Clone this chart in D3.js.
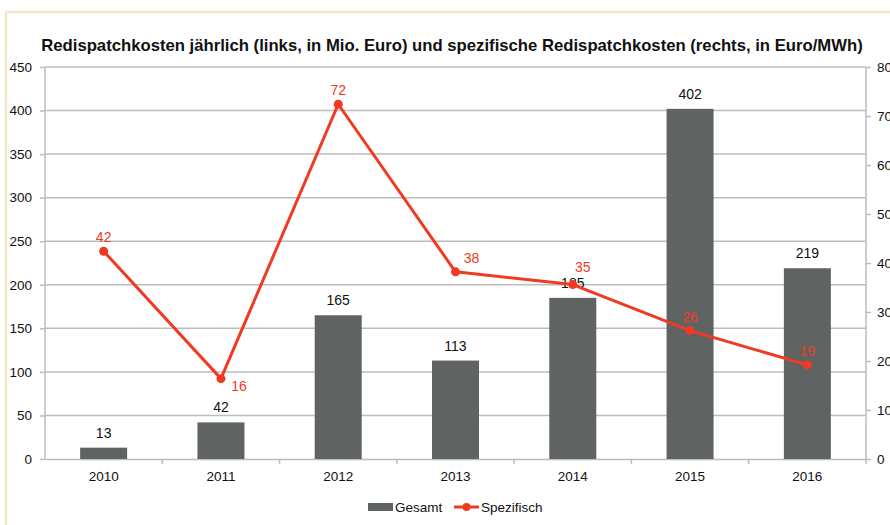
<!DOCTYPE html>
<html>
<head>
<meta charset="utf-8">
<script src="https://cdn.jsdelivr.net/npm/d3@7"></script>
<style>
	body { margin: 0; background: #fff; }
	svg { display: block; font-family: 'Liberation Sans', Arial, sans-serif; }
</style>
</head>
<body>
<div class="chart"></div>
<script>
var years = ['2010', '2011', '2012', '2013', '2014', '2015', '2016'];
var gesamt = [13, 42, 165, 113, 185, 402, 219];
var spezifisch = [42.4, 16.4, 72.4, 38.2, 35.6, 26.2, 19.2];
var leftTicks = [0, 50, 100, 150, 200, 250, 300, 350, 400, 450];
var rightTicks = [0, 10, 20, 30, 40, 50, 60, 70, 80];

var barColor = '#5f6463',
	lineColor = '#f03a22',
	gridColor = '#bcbcbc',
	frameColor = '#f1e7c4';

var width = 890, height = 525;
var margin = {top: 67, left: 45, bottom: 66, right: 24};
var innerW = width - margin.left - margin.right;
var innerH = height - margin.top - margin.bottom;

var svg = d3.select('.chart').append('svg')
	.attr('width', width)
	.attr('height', height);

// beige frame round the chart
svg.append('line').attr('x1', 6).attr('x2', width).attr('y1', 12).attr('y2', 12)
	.attr('stroke', frameColor).attr('stroke-width', 2.5);
svg.append('line').attr('x1', 6).attr('x2', 6).attr('y1', 12).attr('y2', height)
	.attr('stroke', frameColor).attr('stroke-width', 2.5);

svg.append('text')
	.attr('x', 452)
	.attr('y', 51)
	.attr('text-anchor', 'middle')
	.attr('font-size', '16.7px')
	.attr('font-weight', 'bold')
	.attr('fill', '#111')
	.text('Redispatchkosten jährlich (links, in Mio. Euro) und spezifische Redispatchkosten (rechts, in Euro/MWh)');

var g = svg.append('g')
	.attr('transform', 'translate(' + margin.left + ',' + margin.top + ')');

var x = d3.scaleBand().domain(years).range([0, innerW]);
var yL = d3.scaleLinear().domain([0, 450]).range([innerH, 0]);
var yR = d3.scaleLinear().domain([0, 80]).range([innerH, 0]);

// gridlines
g.selectAll('.grid').data(leftTicks.slice(1)).enter().append('line')
	.attr('x1', 0).attr('x2', innerW)
	.attr('y1', function(d) { return yL(d); })
	.attr('y2', function(d) { return yL(d); })
	.attr('stroke', gridColor)
	.attr('stroke-width', 1.5);

// axes
var leftAxis = g.append('g')
	.call(d3.axisLeft(yL).tickValues(leftTicks).tickSize(5).tickPadding(8));
var rightAxis = g.append('g')
	.attr('transform', 'translate(' + innerW + ',0)')
	.call(d3.axisRight(yR).tickValues(rightTicks).tickSize(5).tickPadding(6));
var bottomAxis = g.append('g')
	.attr('transform', 'translate(0,' + innerH + ')')
	.call(d3.axisBottom(x).tickSize(0).tickPadding(12));
[leftAxis, rightAxis, bottomAxis].forEach(function(a) {
	a.select('.domain').attr('stroke', gridColor).attr('stroke-width', 1.5);
	a.selectAll('.tick line').attr('stroke', gridColor).attr('stroke-width', 1.5);
	a.selectAll('text').attr('font-size', '13.5px').attr('fill', '#111')
		.attr('font-family', "'Liberation Sans', Arial, sans-serif");
});
leftAxis.select('.domain').attr('d', 'M0,0V' + innerH);
rightAxis.select('.domain').attr('d', 'M0,0V' + innerH);
// category boundary ticks on the x axis
g.selectAll('.xb').data(years).enter().append('line')
	.attr('x1', function(d) { return x(d) + x.bandwidth(); })
	.attr('x2', function(d) { return x(d) + x.bandwidth(); })
	.attr('y1', innerH).attr('y2', innerH + 5)
	.attr('stroke', gridColor).attr('stroke-width', 1.5);

// bars
var barW = 47;
g.selectAll('.bar').data(gesamt).enter().append('rect')
	.attr('x', function(d, i) { return x(years[i]) + x.bandwidth() / 2 - barW / 2; })
	.attr('y', function(d) { return yL(d); })
	.attr('width', barW)
	.attr('height', function(d) { return innerH - yL(d); })
	.attr('fill', barColor);
g.selectAll('.barlabel').data(gesamt).enter().append('text')
	.attr('x', function(d, i) { return x(years[i]) + x.bandwidth() / 2; })
	.attr('y', function(d) { return yL(d) - 10; })
	.attr('text-anchor', 'middle')
	.attr('font-size', '14px')
	.attr('fill', '#111')
	.text(function(d) { return d; });

// line
var line = d3.line()
	.x(function(d, i) { return x(years[i]) + x.bandwidth() / 2; })
	.y(function(d) { return yR(d); });
g.append('path')
	.datum(spezifisch)
	.attr('d', line)
	.attr('fill', 'none')
	.attr('stroke', lineColor)
	.attr('stroke-width', 3)
	.attr('stroke-linejoin', 'round');
g.selectAll('.pt').data(spezifisch).enter().append('circle')
	.attr('cx', function(d, i) { return x(years[i]) + x.bandwidth() / 2; })
	.attr('cy', function(d) { return yR(d); })
	.attr('r', 4.5)
	.attr('fill', lineColor);
var labelOffsets = [[0, -9], [18, 12], [0, -9], [16, -9], [10, -13], [0, -9], [0, -9]];
g.selectAll('.ptlabel').data(spezifisch).enter().append('text')
	.attr('x', function(d, i) { return x(years[i]) + x.bandwidth() / 2 + labelOffsets[i][0]; })
	.attr('y', function(d, i) { return yR(d) + labelOffsets[i][1]; })
	.attr('text-anchor', 'middle')
	.attr('font-size', '14px')
	.attr('fill', lineColor)
	.text(function(d) { return Math.floor(d); });

// legend
var legend = svg.append('g').attr('transform', 'translate(368,507)');
legend.append('rect').attr('x', 0).attr('y', -4).attr('width', 25).attr('height', 8).attr('fill', barColor);
legend.append('text').attr('x', 27).attr('y', 5).attr('font-size', '13.5px').attr('fill', '#111').text('Gesamt');
legend.append('line').attr('x1', 86).attr('x2', 111).attr('y1', 0).attr('y2', 0)
	.attr('stroke', lineColor).attr('stroke-width', 3);
legend.append('circle').attr('cx', 98.5).attr('cy', 0).attr('r', 4).attr('fill', lineColor);
legend.append('text').attr('x', 113).attr('y', 5).attr('font-size', '13.5px').attr('fill', '#111').text('Spezifisch');
</script>
</body>
</html>
